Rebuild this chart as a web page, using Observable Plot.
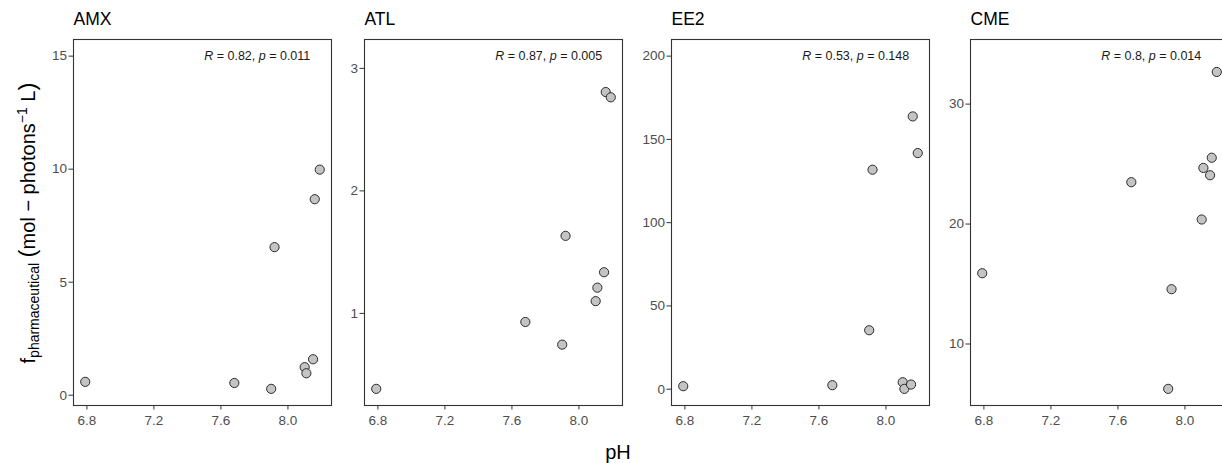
<!DOCTYPE html>
<html>
<head>
<meta charset="utf-8">
<script src="https://cdn.jsdelivr.net/npm/d3@7"></script>
<script src="https://cdn.jsdelivr.net/npm/@observablehq/plot@0.6"></script>
<style>
  html, body { margin: 0; padding: 0; background: #fff; overflow: hidden; }
  #wrap { position: relative; width: 1222px; height: 463px; overflow: hidden; font-family: "Liberation Sans", Arial, sans-serif; }
  .panel { position: absolute; top: 0; }
  #ylab { position: absolute; left: 28px; top: 223px; transform: translate(-50%, -50%) rotate(-90deg); white-space: nowrap; font-size: 20px; color: #000; line-height: 1; }
  #ylab sub { font-size: 14px; vertical-align: -0.35em; }
  #ylab sup { font-size: 14px; vertical-align: 0.55em; }
  #ylab .paren { font-size: 24px; }
  #xlab { position: absolute; left: 618px; top: 441px; transform: translateX(-50%); font-size: 20px; color: #000; line-height: 1.1; }
</style>
</head>
<body>
<div id="wrap">
  <div id="ylab">f<sub>pharmaceutical</sub> <span class="paren">(</span>mol − photons<sup>−1</sup> L<span class="paren">)</span></div>
  <div id="xlab">pH</div>
</div>
<script>
// ---- data ----
const pH = [6.79, 7.68, 7.90, 7.92, 8.10, 8.11, 8.15, 8.16, 8.19];
const amx = [0.59, 0.54, 0.28, 6.55, 1.24, 0.97, 1.59, 8.67, 9.98];
const atl = [0.384, 0.93, 0.745, 1.633, 1.10, 1.21, 1.336, 2.807, 2.764];
const ee2 = [1.8, 2.4, 35.4, 131.8, 4.2, 0.2, 2.8, 163.8, 141.8];
const cme = [15.9, 23.49, 6.26, 14.57, 20.38, 24.68, 24.07, 25.53, 32.68];

const drugs = ["AMX", "ATL", "EE2", "CME"];
const seriesValues = [amx, atl, ee2, cme];
const corLabels = ["R = 0.82, p = 0.011", "R = 0.87, p = 0.005", "R = 0.53, p = 0.148", "R = 0.8, p = 0.014"];
const corLabelX = 7.5;
const corLabelY = [15, 3.1, 200, 34];
const yTickValues = [[0, 5, 10, 15], [1, 2, 3], [0, 50, 100, 150, 200], [10, 20, 30]];
const xTickValues = [6.8, 7.2, 7.6, 8.0];

// ---- layout ----
const frameLefts = [73, 364, 671, 970];
const frameWidth = 258;
const mL = 50, mR = 12, mT = 39, mB = 58, H = 463;

function expand(lo, hi, f = 0.05) { const d = (hi - lo) * f; return [lo - d, hi + d]; }
const xDomain = expand(d3.min(pH), d3.max(pH));

const wrap = document.getElementById("wrap");

drugs.forEach((name, i) => {
  const vals = seriesValues[i];
  const rows = pH.map((p, j) => ({pH: p, f: vals[j]}));
  const yDomain = expand(d3.min(vals), d3.max([...vals, corLabelY[i]]));
  const chart = Plot.plot({
    width: frameWidth + mL + mR,
    height: H,
    marginLeft: mL, marginRight: mR, marginTop: mT, marginBottom: mB,
    style: {fontFamily: "'Liberation Sans', Arial, sans-serif", background: "transparent", overflow: "visible"},
    x: {domain: xDomain, label: null},
    y: {domain: yDomain, label: null},
    marks: [
      Plot.frame({stroke: "#333333", strokeWidth: 1.1}),
      Plot.axisX(xTickValues, {tickSize: 4.5, tickPadding: 5, fontSize: 13.5, stroke: "#333333", fill: "#4D4D4D", tickFormat: d3.format(".1f"), label: null}),
      Plot.axisY(yTickValues[i], {tickSize: 4.5, tickPadding: 2, fontSize: 13.5, stroke: "#333333", fill: "#4D4D4D", tickFormat: d3.format("d"), label: null}),
      Plot.dot(rows, {x: "pH", y: "f", r: 4.6, fill: "#C4C4C4", stroke: "#1A1A1A", strokeWidth: 0.9}),
      Plot.text([corLabels[i]], {x: corLabelX, y: corLabelY[i], text: d => d, textAnchor: "start", lineAnchor: "middle", fontSize: 12.5, fill: "#1A1A1A", className: "corlab"}),
      Plot.text([name], {frameAnchor: "top-left", text: d => d, textAnchor: "start", lineAnchor: "top", dy: -27, fontSize: 17.5, fill: "#000"})
    ]
  });
  chart.classList.add("panel");
  chart.style.left = (frameLefts[i] - mL) + "px";
  // italicise R and p in the correlation label
  d3.select(chart).selectAll(".corlab text").each(function() {
    const t = this.textContent;
    const sel = d3.select(this);
    sel.text(null);
    const parts = t.split(/(R|p)/).filter(s => s.length);
    parts.forEach(s => {
      const ts = sel.append("tspan").text(s);
      if (s === "R" || s === "p") ts.attr("font-style", "italic");
    });
  });
  wrap.appendChild(chart);
});
</script>
</body>
</html>
